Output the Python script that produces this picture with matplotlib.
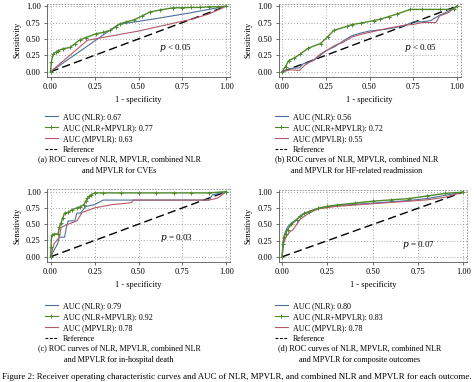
import matplotlib
matplotlib.use("Agg")
import matplotlib.pyplot as plt
from matplotlib.lines import Line2D

plt.rcParams['font.family'] = ['Liberation Serif', 'DejaVu Serif']

W, H = 474, 382

# ROC curve points (fpr, tpr)
# (a) CVEs
a_nlr_x = [0, 0.385, 0.6, 0.8, 1.0]
a_nlr_y = [0, 0.72, 0.81, 0.90, 1.0]
a_mpv_x = [0, 0.21, 0.5, 0.8, 0.9, 1.0]
a_mpv_y = [0, 0.48, 0.62, 0.80, 0.88, 1.0]
a_cmb_x = [0, 0.005, 0.015, 0.03, 0.043, 0.07, 0.11, 0.14, 0.166, 0.2, 0.26, 0.3, 0.337,
           0.37, 0.394, 0.43, 0.474, 0.52, 0.564, 0.62, 0.697, 0.75, 0.8, 0.85, 0.9, 0.95, 1.0]
a_cmb_y = [0, 0.15, 0.27, 0.30, 0.32, 0.35, 0.37, 0.43, 0.485, 0.52, 0.58, 0.60, 0.63,
           0.68, 0.73, 0.76, 0.79, 0.85, 0.91, 0.94, 0.975, 0.975, 0.98, 0.98, 0.99, 0.99, 1.0]

# (b) HF-related readmission
b_nlr_x = [0, 0.05, 0.1, 0.12, 0.18, 0.22, 0.25, 0.3, 0.35, 0.4, 0.45, 0.5, 0.6, 0.7,
           0.75, 0.8, 0.85, 0.9, 0.95, 1.0]
b_nlr_y = [0, 0.05, 0.06, 0.12, 0.17, 0.25, 0.32, 0.38, 0.47, 0.55, 0.59, 0.62, 0.65,
           0.70, 0.76, 0.76, 0.78, 0.86, 0.92, 1.0]
b_mpv_x = [0, 0.05, 0.1, 0.13, 0.18, 0.22, 0.26, 0.3, 0.35, 0.4, 0.45, 0.5, 0.6, 0.7,
           0.75, 0.8, 0.88, 0.9, 0.95, 1.0]
b_mpv_y = [0, 0.03, 0.02, 0.10, 0.18, 0.27, 0.33, 0.40, 0.45, 0.53, 0.57, 0.60, 0.66,
           0.71, 0.72, 0.75, 0.75, 0.85, 0.90, 1.0]
b_cmb_x = [0, 0.02, 0.038, 0.07, 0.105, 0.15, 0.22, 0.26, 0.295, 0.37, 0.4, 0.45, 0.524,
           0.56, 0.61, 0.657, 0.733, 0.8, 0.9, 0.98, 1.0]
b_cmb_y = [0, 0.08, 0.17, 0.21, 0.27, 0.36, 0.43, 0.53, 0.63, 0.69, 0.72, 0.74, 0.78,
           0.80, 0.84, 0.88, 0.95, 0.95, 0.95, 0.95, 1.0]

# (c) in-hospital death
c_nlr_x = [0, 0.02, 0.04, 0.05, 0.08, 0.09, 0.10, 0.138, 0.15, 0.17, 0.2, 0.25, 0.3,
           0.9, 0.92, 1.0]
c_nlr_y = [0, 0.10, 0.20, 0.30, 0.30, 0.45, 0.55, 0.55, 0.67, 0.67, 0.77, 0.80, 0.87,
           0.87, 0.95, 1.0]
c_mpv_x = [0, 0.02, 0.05, 0.06, 0.1, 0.15, 0.18, 0.25, 0.35, 0.46, 0.47, 0.9, 0.95, 1.0]
c_mpv_y = [0, 0.20, 0.30, 0.45, 0.50, 0.55, 0.68, 0.75, 0.80, 0.83, 0.87, 0.87, 0.90, 1.0]
c_cmb_x = [0, 0.003, 0.006, 0.02, 0.043, 0.05, 0.06, 0.07, 0.08, 0.1, 0.12, 0.15, 0.17,
           0.19, 0.2, 0.21, 0.22, 0.23, 0.25, 0.3, 0.4, 0.5, 0.6, 0.7, 0.8, 0.9, 1.0]
c_cmb_y = [0, 0.15, 0.33, 0.35, 0.35, 0.45, 0.52, 0.60, 0.67, 0.68, 0.72, 0.75, 0.77,
           0.80, 0.85, 0.90, 0.93, 0.95, 0.98, 0.98, 0.98, 0.98, 0.98, 0.98, 0.98, 0.98, 1.0]

# (d) composite outcomes
d_nlr_x = [0, 0.005, 0.01, 0.02, 0.03, 0.05, 0.08, 0.1, 0.15, 0.2, 0.3, 0.4, 0.5, 0.6,
           0.7, 0.8, 0.9, 1.0]
d_nlr_y = [0, 0.22, 0.32, 0.40, 0.46, 0.52, 0.58, 0.63, 0.70, 0.75, 0.79, 0.81, 0.83,
           0.85, 0.87, 0.90, 0.95, 1.0]
d_mpv_x = [0, 0.005, 0.01, 0.02, 0.04, 0.06, 0.08, 0.1, 0.15, 0.2, 0.3, 0.4, 0.5, 0.6,
           0.7, 0.8, 0.9, 1.0]
d_mpv_y = [0, 0.15, 0.22, 0.30, 0.38, 0.42, 0.50, 0.58, 0.68, 0.74, 0.78, 0.80, 0.82,
           0.84, 0.86, 0.88, 0.92, 1.0]
d_cmb_x = [0, 0.005, 0.01, 0.02, 0.03, 0.05, 0.08, 0.1, 0.12, 0.15, 0.2, 0.25, 0.3,
           0.4, 0.5, 0.6, 0.7, 0.8, 0.9, 1.0]
d_cmb_y = [0, 0.20, 0.30, 0.36, 0.42, 0.50, 0.57, 0.63, 0.67, 0.70, 0.75, 0.78, 0.80,
           0.83, 0.86, 0.88, 0.90, 0.94, 0.98, 1.0]

auc_labels = [
    ["AUC (NLR): 0.67", "AUC (NLR+MPVLR): 0.77", "AUC (MPVLR): 0.63", "Reference"],
    ["AUC (NLR): 0.56", "AUC (NLR+MPVLR): 0.72", "AUC (MPVLR): 0.55", "Reference"],
    ["AUC (NLR): 0.79", "AUC (NLR+MPVLR): 0.92", "AUC (MPVLR): 0.78", "Reference"],
    ["AUC (NLR): 0.80", "AUC (NLR+MPVLR): 0.83", "AUC (MPVLR): 0.78", "Reference"],
]
p_texts = ["< 0.05", "< 0.05", "= 0.03", "= 0.07"]
p_pos = [(0.71, 0.36), (0.79, 0.36), (0.715, 0.29), (0.75, 0.18)]
captions = [
    "(a) ROC curves of NLR, MPVLR, combined NLR\nand MPVLR for CVEs",
    "(b) ROC curves of NLR, MPVLR, combined NLR\nand MPVLR for HF-related readmission",
    "(c) ROC curves of NLR, MPVLR, combined NLR\nand MPVLR for in-hospital death",
    "(d) ROC curves of NLR, MPVLR, combined NLR\nand MPVLR for composite outcomes",
]

blue = "#4a6f9e"
red = "#b35866"
green = "#4e8a2c"

# panel boxes in pixels: left, right, top, bottom
boxes = [(47, 230, 3.5, 77), (278.5, 460.5, 3.5, 77),
         (47, 230, 189, 262), (278.5, 467, 189.5, 262)]
legend_pos = [(45, 113), (275, 113), (45, 302), (275, 302)]
cap_pos = [(119, 155), (357, 155), (119, 344.5), (360, 344.5)]

data = [
    (a_nlr_x, a_nlr_y, a_cmb_x, a_cmb_y, a_mpv_x, a_mpv_y),
    (b_nlr_x, b_nlr_y, b_cmb_x, b_cmb_y, b_mpv_x, b_mpv_y),
    (c_nlr_x, c_nlr_y, c_cmb_x, c_cmb_y, c_mpv_x, c_mpv_y),
    (d_nlr_x, d_nlr_y, d_cmb_x, d_cmb_y, d_mpv_x, d_mpv_y),
]

fig = plt.figure(figsize=(W / 100, H / 100), dpi=100)

for i, (nx, ny, cx, cy, mx, my) in enumerate(data):
    l, r, t, b = boxes[i]
    ax = fig.add_axes([l / W, 1 - b / H, (r - l) / W, (b - t) / H])
    ax.set_xlim(-0.02, 1.02)
    ax.set_ylim(-0.08, 1.04)

    ax.plot([0, 1], [0, 1], color="black", lw=1.0, ls=(0, (6, 3)), zorder=2)
    ax.plot(nx, ny, color=blue, lw=0.8, zorder=3)
    ax.plot(mx, my, color=red, lw=0.8, zorder=3)
    ax.plot(cx, cy, color=green, lw=1.0, marker="+", ms=3, mew=0.7, zorder=4)

    ax.set_xticks([0, 0.25, 0.5, 0.75, 1.0])
    ax.set_yticks([0, 0.25, 0.5, 0.75, 1.0])
    ax.set_xticklabels(["0.00", "0.25", "0.50", "0.75", "1.00"])
    ax.set_yticklabels(["0.00", "0.25", "0.50", "0.75", "1.00"])
    ax.tick_params(labelsize=6, length=2, width=0.6, color="#555555", pad=2.5)
    ax.grid(True, ls=(0, (1, 2.5)), color="#888888", lw=0.6)
    for s in ["top", "right"]:
        ax.spines[s].set_linestyle((0, (1, 2.5)))
        ax.spines[s].set_color("#888888")
        ax.spines[s].set_linewidth(0.6)
    for s in ["left", "bottom"]:
        ax.spines[s].set_color("#555555")
        ax.spines[s].set_linewidth(0.6)

    ax.set_xlabel("1 - specificity", fontsize=6, labelpad=3.5)
    ax.set_ylabel("Sensitivity", fontsize=6, labelpad=3.5)

    px, py = p_pos[i]
    ax.text(px, py, "$p$ " + p_texts[i], fontsize=6.5, ha="center", va="center",
            math_fontfamily="dejavuserif")

    handles = [
        Line2D([], [], color=blue, lw=0.8),
        Line2D([], [], color=green, lw=0.8, marker="+", ms=3, mew=0.7),
        Line2D([], [], color=red, lw=0.8),
        Line2D([], [], color="black", lw=0.8, ls=(0, (2.5, 1.5))),
    ]
    lx, ly = legend_pos[i]
    fig.legend(handles, auc_labels[i], loc="upper left",
               bbox_to_anchor=(lx / W, 1 - ly / H), frameon=False, fontsize=5.8,
               handlelength=1.6, handletextpad=0.6, labelspacing=0.36,
               borderpad=0, borderaxespad=0)

    cxp, cyp = cap_pos[i]
    fig.text(cxp / W, 1 - cyp / H, captions[i], fontsize=5.9, ha="center", va="top",
             linespacing=1.6)

fig.text(2 / W, 1 - 377 / H,
         "Figure 2: Receiver operating characteristic curves and AUC of NLR, MPVLR, and combined NLR and MPVLR for each outcome.",
         fontsize=6.4, ha="left", va="center")

fig.savefig("out.png", dpi=100)
